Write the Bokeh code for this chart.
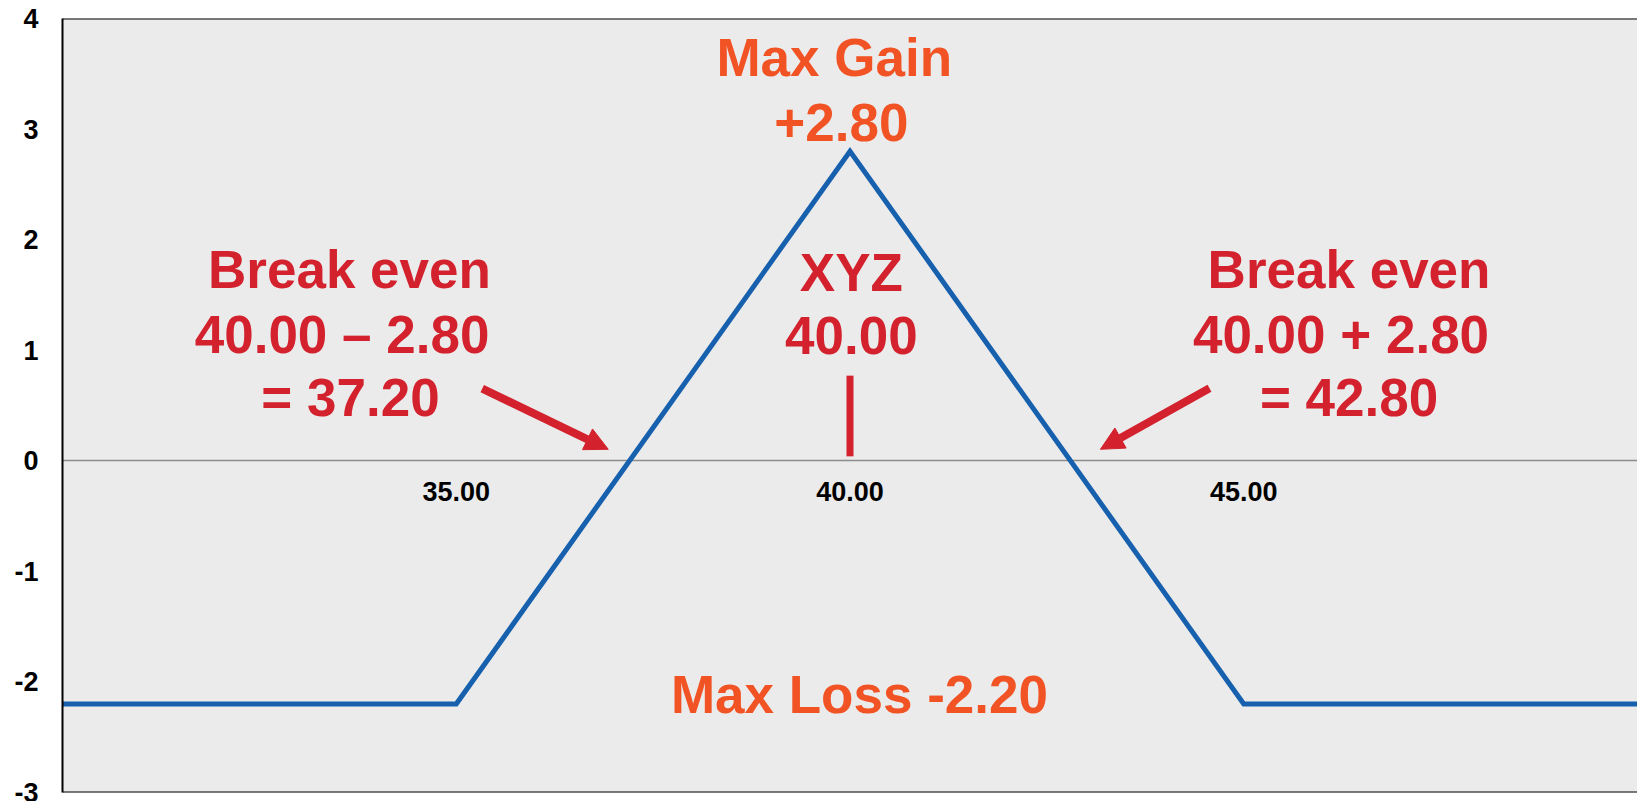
from bokeh.plotting import figure
from bokeh.models import LinearAxis, FixedTicker, Span, Arrow, NormalHead, Range1d
from bokeh.core.properties import value
from bokeh.embed import file_html
from bokeh.resources import INLINE

# ---- data ----
prices = [30, 35, 40, 45, 50]
payoff = [-2.2, -2.2, 2.8, -2.2, -2.2]

x_ticks = [35, 40, 45]
x_tick_labels = ["35.00", "40.00", "45.00"]
y_ticks = [-3, -2, -1, 0, 1, 2, 3, 4]
y_tick_labels = ["-3", "-2", "-1", "0", "1", "2", "3", "4"]

gain_texts = ["Max Gain", "+2.80"]
loss_texts = ["Max Loss -2.20"]
left_be_texts = ["Break even", "40.00 \u2013 2.80", "= 37.20"]
right_be_texts = ["Break even", "40.00 + 2.80", "= 42.80"]
strike_texts = ["XYZ", "40.00"]

strike = 40.0
be_low = 37.2
be_high = 42.8

# ---- styles ----
FONT = "Liberation Sans"
ORANGE = "#F15324"
RED = "#D3222D"
BLUE = "#1660AE"

p = figure(width=1637, height=801, x_range=Range1d(30, 50), y_range=Range1d(-3, 4),
           output_backend="svg", toolbar_location=None, x_axis_type=None,
           min_border_left=62, min_border_right=0, min_border_top=18, min_border_bottom=9,
           background_fill_color="#EBEBEB", border_fill_color="white",
           outline_line_color=None)
p.ygrid.visible = False

ya = p.yaxis[0]
ya.ticker = FixedTicker(ticks=y_ticks)
ya.major_label_overrides = {t: s for t, s in zip(y_ticks, y_tick_labels)}
ya.major_tick_line_color = None
ya.minor_tick_line_color = None
ya.axis_line_color = "black"
ya.axis_line_width = 2
ya.major_label_text_font = FONT
ya.major_label_text_font_style = "bold"
ya.major_label_text_font_size = "27px"
ya.major_label_text_color = "black"
ya.major_label_standoff = 18

xa = LinearAxis(fixed_location=0, ticker=FixedTicker(ticks=x_ticks),
                major_label_overrides={t: s for t, s in zip(x_ticks, x_tick_labels)},
                axis_line_color="#8C8C8C", axis_line_width=1.5,
                major_tick_line_color=None, minor_tick_line_color=None,
                major_label_text_font=FONT, major_label_text_font_style="bold",
                major_label_text_font_size="27px", major_label_text_color="black",
                major_label_standoff=15, level="underlay")
p.add_layout(xa, "below")

p.add_layout(Span(location=4, dimension="width", line_color="black", line_width=2))
p.add_layout(Span(location=-3, dimension="width", line_color="black", line_width=2))

p.line(prices, payoff, line_color=BLUE, line_width=5, line_join="miter")

# strike marker
p.segment(x0=[strike], y0=[0.04], x1=[strike], y1=[0.77], line_color=RED, line_width=7)

# arrows pointing at break-even points
for xs, ys, xe in [(35.33, 0.653, be_low - 0.27), (44.565, 0.656, be_high + 0.38)]:
    p.add_layout(Arrow(end=NormalHead(size=23, fill_color=RED, line_color=RED, line_width=1),
                       x_start=xs, y_start=ys, x_end=xe, y_end=0.104,
                       line_color=RED, line_width=8))

def txt(texts, xs, ys, color, size):
    p.text(x=xs, y=ys, text=texts, text_color=color, text_font=value(FONT),
           text_font_style="bold", text_font_size=size, text_align="center",
           text_baseline="alphabetic")

txt(gain_texts, [39.80, 39.89], [3.645, 3.06], ORANGE, "53px")
txt(loss_texts, [40.12], [-2.11], ORANGE, "53px")
txt(left_be_texts, [33.644, 33.55, 33.657], [1.727, 1.145, 0.573], RED, "53px")
txt(right_be_texts, [46.337, 46.235, 46.337], [1.727, 1.145, 0.573], RED, "53px")
txt(strike_texts, [40.017, 40.017], [1.704, 1.131], RED, "53px")

open("out.html", "w").write(file_html(p, INLINE))
